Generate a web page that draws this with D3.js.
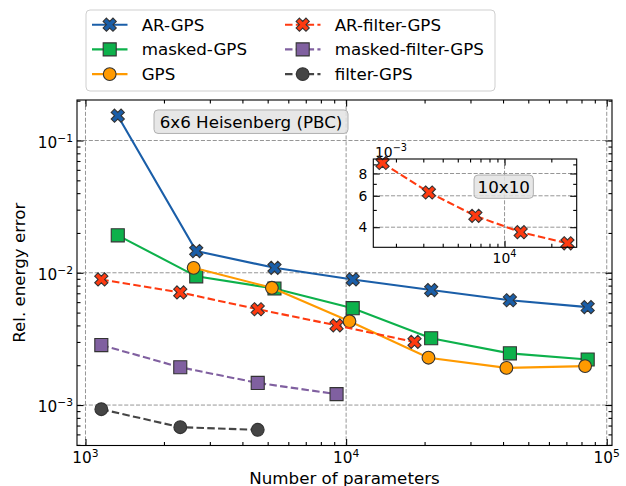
<!DOCTYPE html>
<html>
<head>
<meta charset="utf-8">
<script src="https://cdnjs.cloudflare.com/ajax/libs/d3/7.8.5/d3.min.js"></script>
<style>
  body { margin: 0; background: #fff; }
  svg text { font-family: "DejaVu Sans", sans-serif; fill: #000; }
</style>
</head>
<body>
<div id="chart"></div>
<script>
// valeurs (6x6 Heisenberg)
var seriesNames = ["AR-GPS", "masked-GPS", "GPS", "AR-filter-GPS", "masked-filter-GPS", "filter-GPS"];
var seriesColors = ["#1a5ea8", "#0db14b", "#ff9a00", "#ff3a10", "#8060a0", "#454545"];
var paramsAR = [1330, 2660, 5310, 10600, 21200, 42500, 84500];
var errAR = [0.154, 0.0146, 0.0109, 0.0089, 0.0074, 0.0062, 0.0055];
var errMasked = [0.0192, 0.0094, 0.0076, 0.0054, 0.0032, 0.00246, 0.00221];
var paramsGPS = [2600, 5190, 10300, 20700, 41200, 82600];
var errGPS = [0.0109, 0.0077, 0.0043, 0.00228, 0.00191, 0.00197];
var paramsFilter = [1150, 2310, 4580, 9190, 18300];
var errARFilter = [0.0089, 0.0071, 0.0053, 0.0040, 0.0030];
var errMaskedFilter = [0.00284, 0.00193, 0.00147, 0.00121];
var errFilter = [0.00093, 0.00068, 0.00065];
// encart 10x10
var paramsInset = [1640, 3260, 6490, 12700, 25400];
var errInset = [0.00916, 0.00626, 0.00463, 0.00375, 0.00325];
var insetTickLabels = ["4", "6", "8"];

var series = [
  {name: seriesNames[0], color: seriesColors[0], dash: null, marker: "X", x: paramsAR, y: errAR},
  {name: seriesNames[1], color: seriesColors[1], dash: null, marker: "s", x: paramsAR, y: errMasked},
  {name: seriesNames[2], color: seriesColors[2], dash: null, marker: "o", x: paramsGPS, y: errGPS},
  {name: seriesNames[3], color: seriesColors[3], dash: "7.5,3.3", marker: "X", x: paramsFilter, y: errARFilter},
  {name: seriesNames[4], color: seriesColors[4], dash: "7.5,3.3", marker: "s", x: paramsFilter.slice(0, 4), y: errMaskedFilter},
  {name: seriesNames[5], color: seriesColors[5], dash: "7.5,3.3", marker: "o", x: paramsFilter.slice(0, 3), y: errFilter}
];

var margin = {top: 100, right: 14, bottom: 40.5, left: 77},
    width = 626 - margin.left - margin.right,
    height = 486 - margin.top - margin.bottom;

var svg = d3.select("#chart").append("svg")
    .attr("width", 626).attr("height", 486);
var g = svg.append("g")
    .attr("transform", "translate(" + margin.left + "," + margin.top + ")");

// domaine log avec 5% de marge (comme matplotlib)
function logPad(values) {
  var lo = Math.log10(d3.min(values)), hi = Math.log10(d3.max(values)), m = (hi - lo) * 0.05;
  return [Math.pow(10, lo - m), Math.pow(10, hi + m)];
}
function inDomain(v, dom) { return v >= dom[0] * 0.9999 && v <= dom[1] * 1.0001; }
function logTicks(dom, minor) {
  var out = [];
  for (var e = Math.floor(Math.log10(dom[0])); e <= Math.ceil(Math.log10(dom[1])); e++) {
    var mults = minor ? [2, 3, 4, 5, 6, 7, 8, 9] : [1];
    mults.forEach(function(m) {
      var v = m * Math.pow(10, e);
      if (inDomain(v, dom)) out.push(v);
    });
  }
  return out;
}

var allX = [], allY = [];
series.forEach(function(s) { allX = allX.concat(s.x); allY = allY.concat(s.y); });
var xDom = logPad(allX), yDom = logPad(allY);
var x = d3.scaleLog().domain(xDom).range([0, width]);
var y = d3.scaleLog().domain(yDom).range([height, 0]);

var gridStyle = function(sel) {
  sel.attr("stroke", "#8a8a8a").attr("stroke-width", 0.9).attr("stroke-dasharray", "4.1,1.8").attr("fill", "none");
};

// grille
g.append("g").selectAll("line").data(logTicks(xDom, false)).enter().append("line")
  .attr("x1", function(d) { return x(d); }).attr("x2", function(d) { return x(d); })
  .attr("y1", 0).attr("y2", height).call(gridStyle);
g.append("g").selectAll("line").data(logTicks(yDom, false)).enter().append("line")
  .attr("y1", function(d) { return y(d); }).attr("y2", function(d) { return y(d); })
  .attr("x1", 0).attr("x2", width).call(gridStyle);

function supText(sel, base, sup, fs, rise) {
  sel.each(function(d) {
    var t = d3.select(this);
    var p = typeof sup === "function" ? sup(d) : sup;
    t.text(null);
    t.append("tspan").text(base);
    t.append("tspan").attr("dy", -rise).style("font-size", (fs * 0.7) + "px").text(p);
  });
}
function expOf(d) {
  var e = Math.round(Math.log10(d));
  return e < 0 ? "\u2212" + (-e) : String(e);
}

// axes avec graduations vers l'intérieur, sur les quatre côtés
function drawTicks(parent, scale, dom, w, h, fs, withLabels) {
  var major = logTicks(dom.x, false), minor = logTicks(dom.x, true);
  var ymaj = logTicks(dom.y, false), ymin = logTicks(dom.y, true);
  var sx = scale.x, sy = scale.y;
  var bottom = parent.append("g").attr("class", "axis").attr("transform", "translate(0," + h + ")")
    .call(d3.axisBottom(sx).tickValues(major).tickSizeInner(-6.5).tickSizeOuter(0).tickFormat(""));
  parent.append("g").attr("class", "axis").attr("transform", "translate(0," + h + ")")
    .call(d3.axisBottom(sx).tickValues(minor).tickSizeInner(-3.5).tickSizeOuter(0).tickFormat(""));
  parent.append("g").attr("class", "axis")
    .call(d3.axisTop(sx).tickValues(major).tickSizeInner(-6.5).tickSizeOuter(0).tickFormat(""));
  parent.append("g").attr("class", "axis")
    .call(d3.axisTop(sx).tickValues(minor).tickSizeInner(-3.5).tickSizeOuter(0).tickFormat(""));
  var left = parent.append("g").attr("class", "axis")
    .call(d3.axisLeft(sy).tickValues(ymaj).tickSizeInner(-6.5).tickSizeOuter(0).tickFormat(""));
  parent.append("g").attr("class", "axis")
    .call(d3.axisLeft(sy).tickValues(ymin).tickSizeInner(-3.5).tickSizeOuter(0).tickFormat(""));
  parent.append("g").attr("class", "axis").attr("transform", "translate(" + w + ",0)")
    .call(d3.axisRight(sy).tickValues(ymaj).tickSizeInner(-6.5).tickSizeOuter(0).tickFormat(""));
  parent.append("g").attr("class", "axis").attr("transform", "translate(" + w + ",0)")
    .call(d3.axisRight(sy).tickValues(ymin).tickSizeInner(-3.5).tickSizeOuter(0).tickFormat(""));
  parent.selectAll(".axis .domain").remove();
  parent.selectAll(".axis line").attr("stroke", "#000").attr("stroke-width", 1.1);
  return {bottom: bottom, left: left};
}

var mainAx = drawTicks(g, {x: x, y: y}, {x: xDom, y: yDom}, width, height);

// étiquettes des graduations principales
var fsTick = 15.3;
g.append("g").selectAll("text").data(logTicks(xDom, false)).enter().append("text")
  .attr("x", function(d) { return x(d); }).attr("y", height + 17.2)
  .attr("text-anchor", "middle").style("font-size", fsTick + "px")
  .call(supText, "10", expOf, fsTick, 6);
g.append("g").selectAll("text").data(logTicks(yDom, false)).enter().append("text")
  .attr("x", -4).attr("y", function(d) { return y(d) + 7.2; })
  .attr("text-anchor", "end").style("font-size", fsTick + "px")
  .call(supText, "10", expOf, fsTick, 6);

// titres des axes
g.append("text").attr("x", width / 2).attr("y", height + 38)
  .attr("text-anchor", "middle").style("font-size", "16.7px").text("Number of parameters");
g.append("text").attr("transform", "translate(" + (-52) + "," + (height / 2) + ") rotate(-90)")
  .attr("text-anchor", "middle").style("font-size", "16.7px").text("Rel. energy error");

// marqueurs
function markerPath(type) {
  if (type === "X") return d3.symbol().type(d3.symbolCross).size(108)();
  if (type === "s") return d3.symbol().type(d3.symbolSquare).size(170)();
  return d3.symbol().type(d3.symbolCircle).size(128)();
}
function drawSeries(parent, s, sx, sy) {
  var pts = s.x.map(function(v, i) { return [v, s.y[i]]; });
  var line = d3.line().x(function(d) { return sx(d[0]); }).y(function(d) { return sy(d[1]); });
  parent.append("path").datum(pts).attr("d", line)
    .attr("fill", "none").attr("stroke", s.color).attr("stroke-width", 2.1)
    .attr("stroke-dasharray", s.dash);
  parent.append("g").selectAll("path").data(pts).enter().append("path")
    .attr("d", markerPath(s.marker))
    .attr("transform", function(d) {
      return "translate(" + sx(d[0]) + "," + sy(d[1]) + ")" + (s.marker === "X" ? " rotate(45)" : "");
    })
    .attr("fill", s.color).attr("stroke", "#333").attr("stroke-width", 1.1);
}
series.forEach(function(s) { drawSeries(g, s, x, y); });

// cadre
g.append("rect").attr("width", width).attr("height", height)
  .attr("fill", "none").attr("stroke", "#000").attr("stroke-width", 1.1);

// boîte de titre
function labelBox(parent, cx, cy, w, h, txt) {
  parent.append("rect").attr("x", cx - w / 2).attr("y", cy - h / 2).attr("width", w).attr("height", h)
    .attr("rx", 4).attr("fill", "#e3e3e3").attr("fill-opacity", 0.85)
    .attr("stroke", "#b0b0b0").attr("stroke-width", 1);
  parent.append("text").attr("x", cx).attr("y", cy + 6).attr("text-anchor", "middle")
    .style("font-size", "16.7px").text(txt);
}
labelBox(svg, 251, 121.7, 194, 23.5, "6x6 Heisenberg (PBC)");

// encart 10x10
var inset = {left: 373.3, top: 159, width: 203.4, height: 88.3};
var ig = svg.append("g").attr("transform", "translate(" + inset.left + "," + inset.top + ")");
var ixDom = logPad(paramsInset), iyDom = logPad(errInset);
var ix = d3.scaleLog().domain(ixDom).range([0, inset.width]);
var iy = d3.scaleLog().domain(iyDom).range([inset.height, 0]);
var iyMajor = insetTickLabels.map(function(t) { return +t * 1e-3; });
var iyMinor = [3, 5, 7, 9].map(function(t) { return t * 1e-3; }).filter(function(v) { return inDomain(v, iyDom); });

ig.append("rect").attr("width", inset.width).attr("height", inset.height).attr("fill", "#fff");
ig.append("g").selectAll("line").data(logTicks(ixDom, false)).enter().append("line")
  .attr("x1", function(d) { return ix(d); }).attr("x2", function(d) { return ix(d); })
  .attr("y1", 0).attr("y2", inset.height).call(gridStyle);
ig.append("g").selectAll("line").data(iyMajor).enter().append("line")
  .attr("y1", function(d) { return iy(d); }).attr("y2", function(d) { return iy(d); })
  .attr("x1", 0).attr("x2", inset.width).call(gridStyle);

[[ix, "bottom"], [ix, "top"]].forEach(function(a) {
  var tr = a[1] === "bottom" ? "translate(0," + inset.height + ")" : null;
  var mk = a[1] === "bottom" ? d3.axisBottom : d3.axisTop;
  ig.append("g").attr("class", "axis").attr("transform", tr)
    .call(mk(ix).tickValues(logTicks(ixDom, false)).tickSizeInner(-6.5).tickSizeOuter(0).tickFormat(""));
  ig.append("g").attr("class", "axis").attr("transform", tr)
    .call(mk(ix).tickValues(logTicks(ixDom, true)).tickSizeInner(-3.5).tickSizeOuter(0).tickFormat(""));
});
[["left", 0], ["right", inset.width]].forEach(function(a) {
  var mk = a[0] === "left" ? d3.axisLeft : d3.axisRight;
  ig.append("g").attr("class", "axis").attr("transform", "translate(" + a[1] + ",0)")
    .call(mk(iy).tickValues(iyMajor).tickSizeInner(-6.5).tickSizeOuter(0).tickFormat(""));
  ig.append("g").attr("class", "axis").attr("transform", "translate(" + a[1] + ",0)")
    .call(mk(iy).tickValues(iyMinor).tickSizeInner(-3.5).tickSizeOuter(0).tickFormat(""));
});
ig.selectAll(".axis .domain").remove();
ig.selectAll(".axis line").attr("stroke", "#000").attr("stroke-width", 1.1);

var fsInset = 13.9;
ig.append("g").selectAll("text").data(iyMajor).enter().append("text")
  .attr("x", -6).attr("y", function(d) { return iy(d); }).attr("dy", "0.36em")
  .attr("text-anchor", "end").style("font-size", fsInset + "px")
  .text(function(d, i) { return insetTickLabels[i]; });
ig.append("g").selectAll("text").data(logTicks(ixDom, false)).enter().append("text")
  .attr("x", function(d) { return ix(d); }).attr("y", inset.height + 15.6)
  .attr("text-anchor", "middle").style("font-size", fsInset + "px")
  .call(supText, "10", expOf, fsInset, 5.5);
ig.append("text").attr("x", 1.7).attr("y", -2.4).style("font-size", fsInset + "px")
  .call(supText, "10", "\u22123", fsInset, 5.5);

drawSeries(ig, {color: seriesColors[3], dash: "7.5,3.3", marker: "X", x: paramsInset, y: errInset}, ix, iy);
ig.append("rect").attr("width", inset.width).attr("height", inset.height)
  .attr("fill", "none").attr("stroke", "#000").attr("stroke-width", 1.1);
labelBox(svg, 503.7, 186.7, 59.3, 23.3, "10x10");

// légende (deux colonnes)
var legend = svg.append("g").attr("transform", "translate(86,10)");
legend.append("rect").attr("width", 409).attr("height", 81).attr("rx", 4)
  .attr("fill", "#fff").attr("stroke", "#cfcfcf").attr("stroke-width", 1);
series.forEach(function(s, i) {
  var col = Math.floor(i / 3), row = i % 3;
  var lx = col === 0 ? 6 : 199, ly = 14.7 + row * 24.7;
  var item = legend.append("g").attr("transform", "translate(" + lx + "," + ly + ")");
  item.append("line").attr("x1", 0).attr("x2", 35.5).attr("y1", 0).attr("y2", 0)
    .attr("stroke", s.color).attr("stroke-width", 2.1).attr("stroke-dasharray", s.dash);
  item.append("path").attr("d", markerPath(s.marker))
    .attr("transform", "translate(17.7,0)" + (s.marker === "X" ? " rotate(45)" : ""))
    .attr("fill", s.color).attr("stroke", "#333").attr("stroke-width", 1.1);
  item.append("text").attr("x", 49.7).attr("y", 6).style("font-size", "16.7px").text(s.name);
});
</script>
</body>
</html>
